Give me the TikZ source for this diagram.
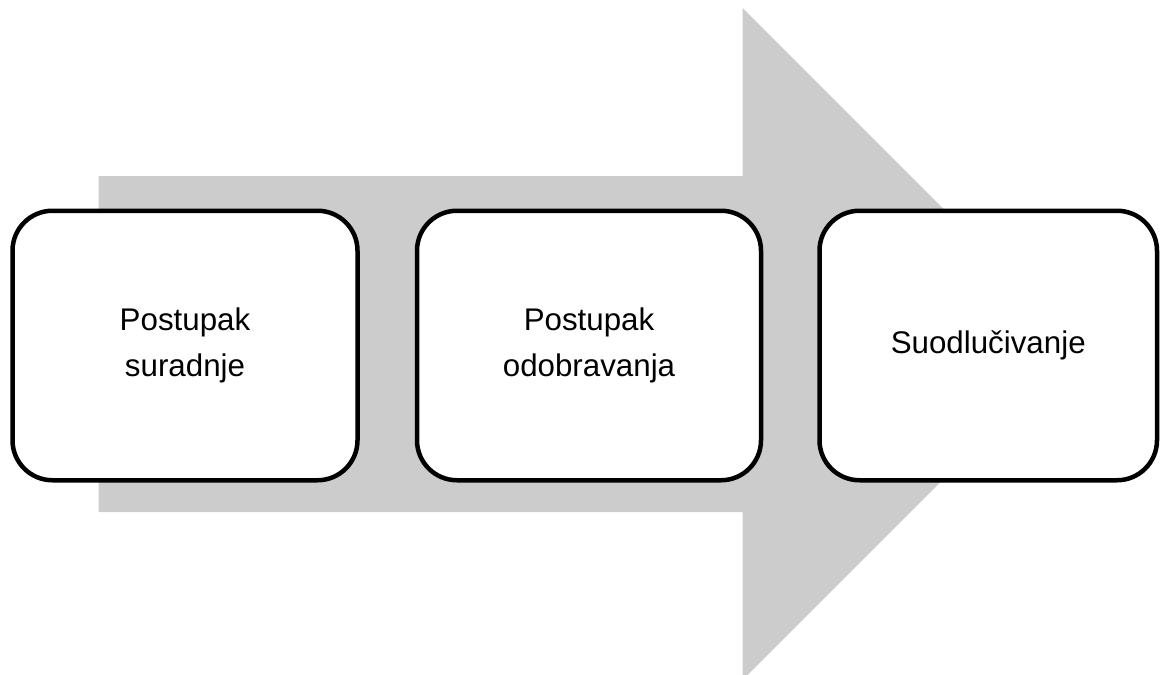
\documentclass[tikz,border=0pt]{standalone}
\usepackage{fontspec}
\setmainfont{Liberation Sans}
\definecolor{arrowgray}{HTML}{CCCCCC}
\begin{document}
\begin{tikzpicture}[x=1pt,y=-1pt,
  stepbox/.style={draw=black, line width=4.5pt, fill=white, rounded corners=40pt,
    minimum height=269.5pt, inner sep=0pt, align=center,
    font=\fontsize{31.3}{46}\selectfont}]
\useasboundingbox (0,0) rectangle (1160,675);
% big gray arrow
\fill[arrowgray] (98.7,176) -- (742.7,176) -- (742.7,8) -- (1078.7,344)
  -- (742.7,680) -- (742.7,512) -- (98.7,512) -- cycle;
% boxes
\node[stepbox, minimum width=345pt] (b1) at (185,345.5) {Postupak\\suradnje};
\node[stepbox, minimum width=344pt] (b2) at (589,345.5) {Postupak\\odobravanja};
\node[stepbox, minimum width=337.5pt] (b3) at (988.25,345.5) {Suodlučivanje};
\end{tikzpicture}
\end{document}
